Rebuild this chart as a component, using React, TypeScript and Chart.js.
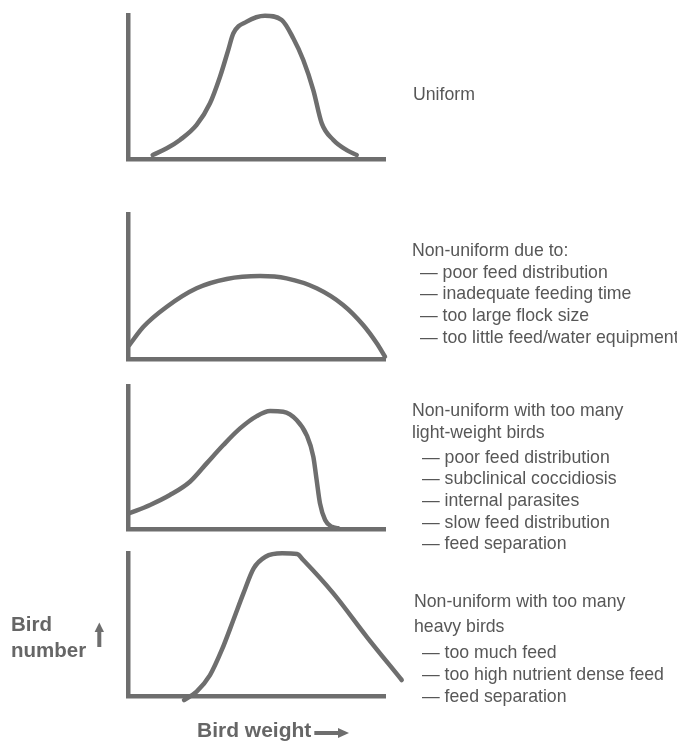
import React, { useEffect, useRef } from "react";
import { Chart, registerables } from "chart.js";

Chart.register(...registerables);

// ---------- Data (bird weight on x, bird number on y; arbitrary 0–10 units) ----------
const uniformWeight = [0.96, 1.51, 2.02, 2.67, 3.19, 3.58, 3.9, 4.1, 4.62, 5.33, 5.98, 6.43, 6.82, 7.21, 7.54, 7.99, 8.51, 8.9];
const uniformNumber = [0.3, 0.76, 1.34, 2.38, 3.88, 5.72, 7.57, 8.73, 9.54, 9.95, 9.65, 8.39, 6.88, 4.8, 2.49, 1.34, 0.64, 0.3];

const spreadWeight = [0.05, 0.6, 1.51, 2.67, 3.84, 5.14, 6.17, 7.34, 8.37, 9.15, 9.68, 10.0];
const spreadNumber = [0.98, 2.24, 3.62, 4.89, 5.53, 5.73, 5.57, 4.89, 3.74, 2.36, 1.1, 0.18];

const lightWeight = [0.05, 0.86, 1.63, 2.41, 3.06, 3.71, 4.36, 5.01, 5.53, 6.04, 6.56, 6.95, 7.21, 7.34, 7.47, 7.67, 7.93, 8.18];
const lightNumber = [1.12, 1.7, 2.39, 3.32, 4.6, 5.88, 7.04, 7.9, 8.25, 8.21, 7.63, 6.58, 5.07, 3.44, 1.81, 0.65, 0.18, 0.07];

const heavyWeight = [2.18, 2.67, 3.19, 3.65, 4.1, 4.49, 4.89, 5.35, 6.0, 6.58, 6.82, 7.99, 9.29, 10.65];
const heavyNumber = [-0.23, 0.35, 1.5, 3.25, 5.34, 7.19, 8.93, 9.74, 9.98, 9.93, 9.51, 7.19, 4.17, 1.16];

// ---------- Texts ----------
const uniformHeading = ["Uniform"];
const uniformCauses: string[] = [];

const spreadHeading = ["Non-uniform due to:"];
const spreadCauses = [
  "— poor feed distribution",
  "— inadequate feeding time",
  "— too large flock size",
  "— too little feed/water equipment",
];

const lightHeading = ["Non-uniform with too many", "light-weight birds"];
const lightCauses = [
  "— poor feed distribution",
  "— subclinical coccidiosis",
  "— internal parasites",
  "— slow feed distribution",
  "— feed separation",
];

const heavyHeading = ["Non-uniform with too many", "heavy birds"];
const heavyCauses = [
  "— too much feed",
  "— too high nutrient dense feed",
  "— feed separation",
];

const yAxisLabel = ["Bird", "number"];
const xAxisLabel = "Bird weight";

// ---------- Styling / layout ----------
const W = 677;
const LINE = "#6e6e6e";
const TEXT = "#575757";
const LABEL = "#666666";
const FONT = "17.7px 'Liberation Sans', Arial, sans-serif";
const BOLD_Y = "bold 20.5px 'Liberation Sans', Arial, sans-serif";
const BOLD_X = "bold 21px 'Liberation Sans', Arial, sans-serif";

type PanelCfg = {
  top: number;
  height: number;
  area: [number, number, number, number]; // left, top, right, bottom (page px)
  xs: number[];
  ys: number[];
  heading: string[];
  headingX: number;
  headingBase: number[];
  causes: string[];
  causesX: number;
  causesBase: number[];
  axisLabels?: boolean;
};

const PANELS: PanelCfg[] = [
  {
    top: 0, height: 190, area: [128, 15, 385, 159.3],
    xs: uniformWeight, ys: uniformNumber,
    heading: uniformHeading, headingX: 413, headingBase: [100],
    causes: uniformCauses, causesX: 421, causesBase: [],
  },
  {
    top: 185, height: 190, area: [128, 214, 385, 359.3],
    xs: spreadWeight, ys: spreadNumber,
    heading: spreadHeading, headingX: 412, headingBase: [256],
    causes: spreadCauses, causesX: 420, causesBase: [278, 299, 321, 343],
  },
  {
    top: 370, height: 192, area: [128, 386, 385, 529.3],
    xs: lightWeight, ys: lightNumber,
    heading: lightHeading, headingX: 412, headingBase: [416, 438],
    causes: lightCauses, causesX: 422, causesBase: [463, 484, 506, 528, 549],
  },
  {
    top: 545, height: 197, area: [128, 553, 385, 696.7],
    xs: heavyWeight, ys: heavyNumber,
    heading: heavyHeading, headingX: 414, headingBase: [607, 632],
    causes: heavyCauses, causesX: 422, causesBase: [658, 680, 702],
    axisLabels: true,
  },
];

const notesPlugin = {
  id: "panelNotes",
  afterDraw(chart: any, _args: any, opts: any) {
    const cfg: PanelCfg = opts.cfg;
    if (!cfg) return;
    const ctx = chart.ctx as CanvasRenderingContext2D;
    const off = cfg.top;
    ctx.save();
    ctx.textBaseline = "alphabetic";
    ctx.textAlign = "left";
    ctx.fillStyle = TEXT;
    ctx.font = FONT;
    cfg.heading.forEach((t, i) => ctx.fillText(t, cfg.headingX, cfg.headingBase[i] - off));
    cfg.causes.forEach((t, i) => ctx.fillText(t, cfg.causesX, cfg.causesBase[i] - off));

    if (cfg.axisLabels) {
      ctx.fillStyle = LABEL;
      ctx.font = BOLD_Y;
      ctx.fillText(yAxisLabel[0], 11, 631 - off);
      ctx.fillText(yAxisLabel[1], 11, 657 - off);
      ctx.font = BOLD_X;
      ctx.fillText(xAxisLabel, 197, 737 - off);

      // up arrow
      ctx.fillStyle = LINE;
      ctx.fillRect(97.3, 630 - off, 4, 17);
      ctx.beginPath();
      ctx.moveTo(99.3, 622.5 - off);
      ctx.lineTo(94.6, 632 - off);
      ctx.lineTo(104, 632 - off);
      ctx.closePath();
      ctx.fill();

      // right arrow
      const mx = ctx.measureText(xAxisLabel).width;
      const sx = 197 + mx + 3;
      ctx.fillRect(sx, 731 - off, 339 - sx, 4);
      ctx.beginPath();
      ctx.moveTo(349, 733 - off);
      ctx.lineTo(338, 728 - off);
      ctx.lineTo(338, 738 - off);
      ctx.closePath();
      ctx.fill();
    }
    ctx.restore();
  },
};

function axisOpts() {
  return {
    type: "linear" as const,
    min: 0,
    max: 10,
    display: true,
    grid: { display: false, drawTicks: false },
    ticks: { display: false },
    border: { display: true, color: LINE, width: 4.5 },
  };
}

function Panel({ cfg }: { cfg: PanelCfg }) {
  const ref = useRef<HTMLCanvasElement | null>(null);
  useEffect(() => {
    const canvas = ref.current;
    if (!canvas) return;
    const [l, t, r, b] = cfg.area;
    const chart = new Chart(canvas, {
      type: "line",
      data: {
        datasets: [
          {
            data: cfg.xs.map((x, i) => ({ x, y: cfg.ys[i] })),
            borderColor: LINE,
            borderWidth: 4.5,
            pointRadius: 0,
            fill: false,
            cubicInterpolationMode: "monotone",
            clip: false as any,
            borderCapStyle: "round",
            borderJoinStyle: "round",
          },
        ],
      },
      options: {
        responsive: false,
        maintainAspectRatio: false,
        animation: false,
        devicePixelRatio: 1,
        events: [],
        layout: {
          padding: { left: l, right: W - r, top: t - cfg.top, bottom: cfg.top + cfg.height - b },
        },
        elements: { line: { capBezierPoints: false } },
        plugins: {
          legend: { display: false },
          tooltip: { enabled: false },
          title: { display: false },
          panelNotes: { cfg },
        } as any,
        scales: { x: axisOpts(), y: axisOpts() },
      },
      plugins: [notesPlugin],
    });
    return () => chart.destroy();
  }, [cfg]);
  return (
    <canvas
      ref={ref}
      width={W}
      height={cfg.height}
      style={{ position: "absolute", left: 0, top: cfg.top, width: W, height: cfg.height, display: "block" }}
    />
  );
}

export default function App() {
  return (
    <div style={{ position: "absolute", left: 0, top: 0, width: W, height: 742, background: "#ffffff", overflow: "hidden" }}>
      {PANELS.map((p, i) => (
        <Panel key={i} cfg={p} />
      ))}
    </div>
  );
}
